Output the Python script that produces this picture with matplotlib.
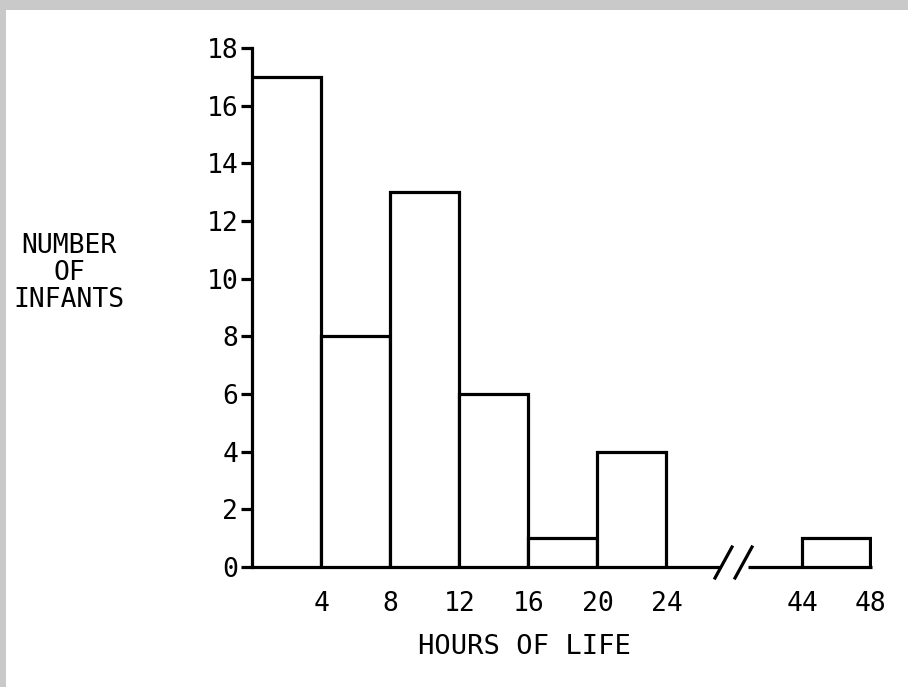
import matplotlib.pyplot as plt
from matplotlib.patches import Rectangle

# hours-of-life bins (left edge) and number of infants
bin_left = [0, 4, 8, 12, 16, 20, 44]
counts = [17, 8, 13, 6, 1, 4, 1]
bin_width = 4
y_ticks = [0, 2, 4, 6, 8, 10, 12, 14, 16, 18]
x_ticks_left = [4, 8, 12, 16, 20, 24]
x_ticks_right = [44, 48]

plt.rcParams['font.family'] = 'DejaVu Sans Mono'
lw = 2.3

fig = plt.figure(figsize=(9.08, 6.87), dpi=100)
fig.patch.set_facecolor('white')

# scanned page grey edges
fig.patches.append(Rectangle((0, 1 - 10 / 687), 1, 10 / 687, transform=fig.transFigure,
                             facecolor='#c9c9c9', edgecolor='none', zorder=0))
fig.patches.append(Rectangle((0, 0), 6 / 908, 1, transform=fig.transFigure,
                             facecolor='#c9c9c9', edgecolor='none', zorder=0))

ax1 = fig.add_axes([252 / 908, 120 / 687, 468 / 908, 519 / 687])
ax2 = fig.add_axes([748 / 908, 120 / 687, 124 / 908, 519 / 687], sharey=ax1)

for ax in (ax1, ax2):
    ax.bar(bin_left, counts, width=bin_width, align='edge',
           facecolor='white', edgecolor='black', linewidth=lw, zorder=3)
    ax.set_ylim(0, 18)
    for s in ('top', 'right', 'left'):
        ax.spines[s].set_visible(False)
    ax.spines['bottom'].set_linewidth(lw)
    ax.spines['bottom'].set_capstyle('butt')
    ax.tick_params(axis='x', length=0, pad=17, labelsize=19)
    ax.set_facecolor('none')

ax1.set_xlim(0, 27.1)
ax2.set_xlim(40.8, 48.1)
ax1.spines['left'].set_visible(True)
ax1.spines['left'].set_linewidth(lw)
ax1.set_yticks(y_ticks)
ax1.tick_params(axis='y', length=8, width=lw, pad=2, labelsize=19)
ax2.tick_params(axis='y', left=False, labelleft=False)
ax1.set_xticks(x_ticks_left)
ax2.set_xticks(x_ticks_right)

# break marks
for x0 in (715, 735):
    fig.add_artist(plt.Line2D([x0 / 908, (x0 + 17) / 908],
                              [1 - 578 / 687, 1 - 547 / 687],
                              color='black', linewidth=lw))

fig.text(69 / 908, 1 - 273 / 687, 'NUMBER\nOF\nINFANTS', ha='center', va='center',
         fontsize=19, linespacing=1.05, multialignment='center')
fig.text(524 / 908, 1 - 647 / 687, 'HOURS OF LIFE', ha='center', va='center', fontsize=19.5)

fig.savefig('out.png', dpi=100)
